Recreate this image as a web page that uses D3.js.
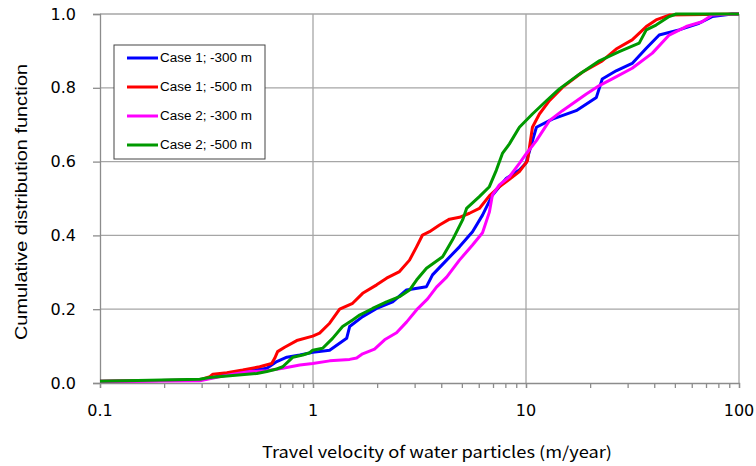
<!DOCTYPE html>
<html>
<head>
<meta charset="utf-8">
<script src="https://cdn.jsdelivr.net/npm/d3@7"></script>
<style>
  body { margin: 0; background: #fff; }
  #chart svg { display: block; }
</style>
</head>
<body>
<div id="chart"></div>
<script>
// Data: [velocity (m/year), CDF]
const case1_300 = [
  [0.1,0.005],[0.294,0.008],[0.42,0.026],[0.607,0.040],[0.676,0.058],[0.754,0.070],
  [0.867,0.076],[0.997,0.083],[1.197,0.089],[1.439,0.121],[1.486,0.153],[1.71,0.180],
  [1.99,0.202],[2.366,0.220],[2.748,0.252],[3.41,0.261],[3.64,0.293],[4.24,0.333],
  [4.87,0.369],[5.61,0.410],[6.25,0.455],[6.95,0.509],[8.09,0.555],[9.31,0.577],
  [10.0,0.596],[11.19,0.693],[13.3,0.715],[17.2,0.738],[21.4,0.774],[22.8,0.824],
  [26.5,0.846],[31.5,0.866],[36.7,0.907],[42.2,0.943],[52.3,0.957],[65.0,0.975],
  [74.8,0.993],[92.9,1.0],[100,1.0]
];
const case1_500 = [
  [0.1,0.005],[0.294,0.008],[0.328,0.017],[0.339,0.024],[0.394,0.028],[0.468,0.035],
  [0.562,0.044],[0.64,0.053],[0.661,0.067],[0.682,0.085],[0.736,0.097],[0.839,0.115],
  [0.997,0.127],[1.074,0.135],[1.197,0.162],[1.334,0.200],[1.535,0.216],[1.71,0.243],
  [1.99,0.266],[2.215,0.284],[2.548,0.302],[2.839,0.333],[3.063,0.369],[3.267,0.401],
  [3.524,0.410],[3.926,0.428],[4.374,0.444],[4.873,0.449],[5.429,0.460],[6.04,0.473],
  [6.73,0.507],[7.5,0.532],[8.36,0.552],[9.31,0.573],[10.16,0.602],[10.72,0.693],
  [11.56,0.729],[12.88,0.765],[14.83,0.801],[18.38,0.842],[22.8,0.873],[26.5,0.905],
  [31.5,0.930],[36.7,0.966],[40.8,0.984],[47.0,0.997],[100,1.0]
];
const case2_300 = [
  [0.1,0.004],[0.294,0.006],[0.42,0.024],[0.505,0.031],[0.607,0.033],[0.721,0.040],
  [0.867,0.049],[0.997,0.053],[1.197,0.060],[1.486,0.064],[1.603,0.068],[1.71,0.079],
  [1.945,0.092],[2.168,0.117],[2.467,0.136],[2.748,0.165],[3.096,0.201],[3.451,0.228],
  [3.8,0.260],[4.24,0.287],[4.87,0.333],[5.61,0.374],[6.25,0.407],[6.73,0.463],
  [6.95,0.509],[7.5,0.537],[8.36,0.559],[9.31,0.595],[10.05,0.622],[11.19,0.657],
  [12.88,0.711],[14.83,0.738],[19.2,0.783],[22.1,0.806],[25.4,0.824],[31.5,0.853],
  [39.2,0.894],[47.0,0.943],[56.5,0.966],[67.1,0.979],[74.8,0.997],[100,1.0]
];
const case2_500 = [
  [0.1,0.005],[0.294,0.010],[0.328,0.015],[0.42,0.020],[0.545,0.026],[0.607,0.031],
  [0.676,0.038],[0.721,0.044],[0.778,0.062],[0.804,0.070],[0.895,0.076],[0.965,0.082],
  [0.997,0.089],[1.11,0.094],[1.236,0.121],[1.377,0.153],[1.535,0.171],[1.655,0.184],
  [1.905,0.202],[2.215,0.220],[2.548,0.234],[2.839,0.252],[3.063,0.279],[3.41,0.311],
  [4.06,0.342],[4.52,0.388],[5.04,0.442],[5.26,0.473],[6.04,0.505],[6.73,0.532],
  [7.26,0.577],[7.75,0.622],[8.36,0.648],[9.31,0.693],[10.72,0.729],[12.47,0.765],
  [14.35,0.797],[17.8,0.837],[22.1,0.873],[27.4,0.898],[34.0,0.921],[36.7,0.957],
  [40.8,0.970],[47.0,0.993],[50.7,1.0],[100,1.0]
];

const seriesNames = ["Case 1; -300 m", "Case 1; -500 m", "Case 2; -300 m", "Case 2; -500 m"];
const seriesColors = ["#0000ff", "#ff0000", "#ff00ff", "#009900"];
const seriesData = [case1_300, case1_500, case2_300, case2_500];

const xTicks = [0.1, 1, 10, 100];
const yTicks = [0, 0.2, 0.4, 0.6, 0.8, 1.0];

// 1. Basic layout
const W = 756, H = 466;
const margin = { top: 14, right: 17, bottom: 83, left: 100 };
const width = W - margin.left - margin.right;
const height = H - margin.top - margin.bottom;

const svg = d3.select("#chart")
  .append("svg")
  .attr("width", W)
  .attr("height", H);

const g = svg.append("g")
  .attr("transform", `translate(${margin.left},${margin.top})`);

// 2. Scales
const x = d3.scaleLog().domain([0.1, 100]).range([0, width]);
const y = d3.scaleLinear().domain([0, 1]).range([height, 0]);

// 3. Gridlines
g.append("g")
  .selectAll("line.hgrid")
  .data(yTicks.slice(1))
  .join("line")
  .attr("x1", 0).attr("x2", width)
  .attr("y1", d => y(d)).attr("y2", d => y(d))
  .attr("stroke", "#a6a6a6").attr("stroke-width", 1.3);

g.append("g")
  .selectAll("line.vgrid")
  .data(xTicks.slice(1))
  .join("line")
  .attr("x1", d => x(d)).attr("x2", d => x(d))
  .attr("y1", 0).attr("y2", height)
  .attr("stroke", "#a6a6a6").attr("stroke-width", 1.3);

// 4. Axes
const minorTicks = [];
for (let dec = 0.1; dec < 100; dec *= 10) {
  for (let k = 1; k <= 10; k++) minorTicks.push(+(dec * k).toPrecision(3));
}

const xAxis = g.append("g")
  .attr("transform", `translate(0,${height})`)
  .call(d3.axisBottom(x).tickValues(minorTicks).tickSize(5).tickFormat(""));
xAxis.select(".domain").attr("stroke", "#8c8c8c").attr("stroke-width", 1.3);
xAxis.selectAll(".tick line").attr("stroke", "#8c8c8c").attr("stroke-width", 1.3);

g.append("g")
  .attr("transform", `translate(0,${height})`)
  .selectAll("text")
  .data(xTicks)
  .join("text")
  .attr("x", d => x(d))
  .attr("y", 33)
  .attr("text-anchor", "middle")
  .attr("font-family", "DejaVu Sans, sans-serif")
  .attr("font-size", 16)
  .attr("fill", "#000")
  .text(d => d3.format("~g")(d));

const yAxis = g.append("g")
  .call(d3.axisLeft(y).tickValues(yTicks).tickSize(7).tickPadding(17).tickFormat(d3.format(".1f")));
yAxis.select(".domain").attr("stroke", "#8c8c8c").attr("stroke-width", 1.3);
yAxis.selectAll(".tick line").attr("stroke", "#8c8c8c").attr("stroke-width", 1.3);
yAxis.selectAll(".tick text")
  .attr("font-family", "DejaVu Sans, sans-serif")
  .attr("font-size", 16)
  .attr("fill", "#000");

// Axis titles
svg.append("text")
  .attr("x", 437)
  .attr("y", 458)
  .attr("text-anchor", "middle")
  .attr("font-family", "Noto Sans CJK JP, sans-serif")
  .attr("font-size", 16)
  .attr("textLength", 350)
  .attr("lengthAdjust", "spacingAndGlyphs")
  .text("Travel velocity of water particles (m/year)");

svg.append("text")
  .attr("transform", "translate(27,202) rotate(-90)")
  .attr("text-anchor", "middle")
  .attr("font-family", "Liberation Sans, sans-serif")
  .attr("font-size", 17)
  .attr("textLength", 276)
  .attr("lengthAdjust", "spacingAndGlyphs")
  .text("Cumulative distribution function");

// 5. Lines
const line = d3.line()
  .x(d => x(d[0]))
  .y(d => y(d[1]));

seriesData.forEach((data, i) => {
  g.append("path")
    .datum(data)
    .attr("fill", "none")
    .attr("stroke", seriesColors[i])
    .attr("stroke-width", 3)
    .attr("stroke-linejoin", "round")
    .attr("d", line);
});

// 6. Legend
const legend = svg.append("g")
  .attr("transform", "translate(114,45)");

legend.append("rect")
  .attr("x", 0).attr("y", 0)
  .attr("width", 151).attr("height", 114)
  .attr("fill", "#fff")
  .attr("stroke", "#444")
  .attr("stroke-width", 1);

seriesNames.forEach((name, i) => {
  const row = legend.append("g")
    .attr("transform", `translate(0, ${13 + i * 29})`);

  row.append("line")
    .attr("x1", 13).attr("x2", 44)
    .attr("y1", 0).attr("y2", 0)
    .attr("stroke", seriesColors[i])
    .attr("stroke-width", 3);

  row.append("text")
    .attr("x", 46)
    .attr("y", 0)
    .attr("dominant-baseline", "central")
    .attr("font-family", "Liberation Sans, sans-serif")
    .attr("font-size", 12.5)
    .attr("textLength", 92)
    .attr("lengthAdjust", "spacingAndGlyphs")
    .text(name);
});
</script>
</body>
</html>
